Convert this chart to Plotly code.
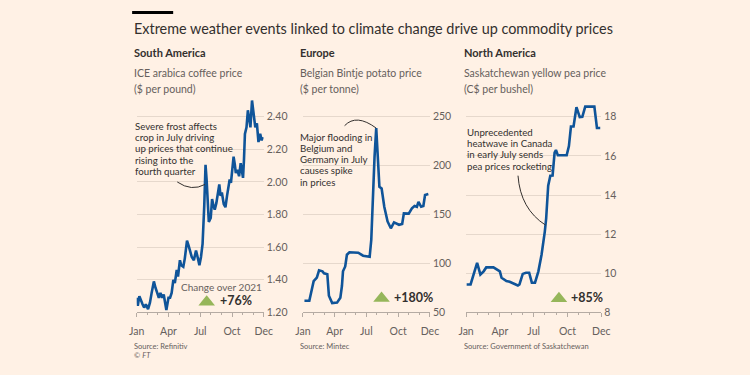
import plotly.graph_objects as go

# ---------------- data ----------------
month_tickvals = [0, 3, 6, 9, 12]
month_ticktext = ["Jan", "Apr", "Jul", "Oct", "Dec"]
minor_months = list(range(0, 13))

coffee_month = [0, 0.1, 0.25, 0.4, 0.55, 0.7, 0.86, 1.07, 1.25, 1.41, 1.62, 1.78, 1.93, 2.09,
                2.24, 2.4, 2.55, 2.7, 2.8, 3.0, 3.15, 3.3, 3.46, 3.6, 3.78, 3.9, 4.08, 4.2,
                4.4, 4.54, 4.75, 4.9, 5.04, 5.2, 5.4, 5.6, 5.75, 5.92, 6.07, 6.22, 6.38,
                6.5, 6.6, 6.69, 6.81, 6.99, 7.12, 7.24, 7.37, 7.52, 7.67, 7.8, 7.92, 8.04,
                8.22, 8.38, 8.53, 8.65, 8.78, 8.9, 9.05, 9.15, 9.27, 9.36, 9.5, 9.67, 9.82,
                9.92, 10.04, 10.13, 10.22, 10.37, 10.5, 10.62, 10.74, 10.89, 11.04, 11.2,
                11.35, 11.5, 11.66, 11.8, 11.9]
coffee_price = [1.29, 1.24, 1.30, 1.27, 1.25, 1.23, 1.25, 1.22, 1.26, 1.32, 1.39, 1.35, 1.32, 1.29,
                1.32, 1.29, 1.31, 1.24, 1.215, 1.29, 1.29, 1.32, 1.40, 1.38, 1.46, 1.42, 1.52, 1.49,
                1.48, 1.53, 1.64, 1.61, 1.57, 1.54, 1.52, 1.58, 1.54, 1.49, 1.54, 1.62, 1.855,
                2.105, 2.015, 1.855, 1.755, 1.78, 1.895, 1.855, 1.83, 1.87, 1.935, 1.985, 1.915, 1.935,
                1.865, 1.845, 1.915, 1.955, 2.015, 1.995, 2.095, 2.155, 2.105, 2.055, 2.075, 2.035, 2.115,
                2.055, 2.025, 2.135, 2.295, 2.335, 2.44, 2.39, 2.335, 2.50, 2.42, 2.335,
                2.36, 2.245, 2.295, 2.255, 2.275]

potato_month = [0.15, 0.61, 1.02, 1.32, 1.53, 1.85, 2.0, 2.31, 2.46, 2.77, 3.23, 3.54, 3.69, 3.79,
                4.0, 4.16, 4.4, 5.23, 5.69, 6.15, 6.31, 6.46, 6.61, 6.77, 6.93, 7.07, 7.23, 7.44,
                7.69, 8.0, 8.31, 8.61, 9.08, 9.38, 9.54, 10.0, 10.3, 10.55, 10.77, 10.92, 11.17,
                11.38, 11.54, 11.85]
potato_price = [62, 62, 82, 85.5, 93, 92, 90, 89, 67, 59.5, 60, 65, 77, 92,
                97, 109, 111.5, 111, 108, 107, 107, 124, 168, 209, 238.5, 215.6, 178.4, 176.7,
                158, 143, 136, 142, 139.6, 140.5, 151.3, 151, 156.4, 158.8, 158, 163, 158,
                158.8, 170, 171]

pea_month = [0.05, 0.4, 0.98, 1.27, 1.56, 1.79, 2.43, 2.71, 3.0, 3.15, 3.43, 3.58, 3.87, 4.3,
             4.6, 4.74, 5.03, 5.32, 5.6, 5.84, 6.12, 6.42, 6.7, 6.99, 7.11, 7.29, 7.48, 7.68,
             7.86, 7.98, 8.15, 8.93, 9.13, 9.31, 9.54, 9.8, 10.09, 10.32, 10.58, 11.39, 11.62, 11.91]
pea_price = [9.43, 9.43, 10.53, 9.94, 10.1, 10.3, 10.3, 10.19, 10.1, 9.77, 9.64, 9.6, 9.57, 9.47,
             9.38, 9.43, 9.97, 10.03, 10.03, 9.52, 9.52, 10.1, 10.95, 12.13, 12.8, 14.48, 14.99, 15.0,
             16.17, 16.3, 16.03, 16.03, 16.5, 17.5, 17.5, 18.49, 17.98, 18.0, 18.52, 18.52, 17.43, 17.43]

coffee_ticks = [1.2, 1.4, 1.6, 1.8, 2.0, 2.2, 2.4]
potato_ticks = [50, 100, 150, 200, 250]
pea_ticks = [8, 10, 12, 14, 16, 18]

regions = ["South America", "Europe", "North America"]
subtitles = [["ICE arabica coffee price", "($ per pound)"],
             ["Belgian Bintje potato price", "($ per tonne)"],
             ["Saskatchewan yellow pea price", "(C$ per bushel)"]]
changes = ["+76%", "+180%", "+85%"]
sources = ["Source: Refinitiv", "Source: Mintec", "Source: Government of Saskatchewan"]
notes = [["Severe frost affects", "crop in July driving", "up prices that continue",
          "rising into the", "fourth quarter"],
         ["Major flooding in", "Belgium and", "Germany in July", "causes spike", "in prices"],
         ["Unprecedented", "heatwave in Canada", "in early July sends", "pea prices rocketing"]]
title = "Extreme weather events linked to climate change drive up commodity prices"

# ---------------- style ----------------
W, H = 750, 375
BG = "#FFF1E5"
LINE = "#0F5499"
GRID = "#E6D8CC"
AXIS = "#B5ABA3"
TXT = "#33302E"
GREY = "#66605C"
GREEN = "#96B65A"
FONT = "Lato"


def px(x):
    return x / W


def py(y):
    return (H - y) / H


fig = go.Figure()

series = [(coffee_month, coffee_price), (potato_month, potato_price), (pea_month, pea_price)]
for i, (mx, vy) in enumerate(series):
    fig.add_trace(go.Scatter(x=mx, y=vy, mode="lines",
                             line=dict(color=LINE, width=2.6),
                             xaxis="x" if i == 0 else f"x{i+1}",
                             yaxis="y" if i == 0 else f"y{i+1}",
                             hoverinfo="skip", showlegend=False))

x_domains = [(131.7, 261.7), (301.7, 431.7), (468.7, 607.0)]
y_dom = [py(317.5), py(98)]
y_ranges = [[1.2, 2.5247], [50, 270.8], [8, 19.04]]
y_ticks = [coffee_ticks, potato_ticks, pea_ticks]
y_formats = [".2f", "d", "d"]

layout = dict(width=W, height=H, margin=dict(l=0, r=0, t=0, b=0),
              paper_bgcolor=BG, plot_bgcolor=BG, showlegend=False,
              font=dict(family=FONT, color=TXT))
for i in range(3):
    sx = "" if i == 0 else str(i + 1)
    layout[f"xaxis{sx}"] = dict(
        domain=[px(x_domains[i][0]), px(x_domains[i][1])], range=[0, 12],
        anchor=f"y{sx}", tickmode="array", tickvals=month_tickvals, ticktext=month_ticktext,
        showgrid=False, zeroline=False, showline=True, linecolor=AXIS, linewidth=1,
        ticks="outside", ticklen=4, tickcolor=AXIS, tickwidth=1,
        minor=dict(tickmode="array", tickvals=minor_months, ticks="outside", ticklen=2,
                   tickcolor=AXIS, tickwidth=1, showgrid=False),
        tickfont=dict(family=FONT, size=10.5, color=GREY), ticklabelstandoff=5,
        fixedrange=True)
    layout[f"yaxis{sx}"] = dict(
        domain=y_dom, range=y_ranges[i], anchor=f"x{sx}", side="right",
        tickmode="array", tickvals=y_ticks[i], tickformat=y_formats[i],
        showgrid=True, gridcolor=GRID, gridwidth=1, zeroline=False, showline=False,
        ticks="", tickfont=dict(family=FONT, size=10.5, color=GREY), ticklabelstandoff=2,
        fixedrange=True)
fig.update_layout(**layout)

ann = []
# title
ann.append(dict(text=title, x=px(127), y=py(29), xref="paper", yref="paper",
                xanchor="left", yanchor="middle", showarrow=False,
                font=dict(family=FONT, size=14.4, color=TXT)))
head_x = [127, 296.5, 465]
for i in range(3):
    ann.append(dict(text=f"<b>{regions[i]}</b>", x=px(head_x[i]), y=py(53.5), xref="paper",
                    yref="paper", xanchor="left", yanchor="middle", showarrow=False,
                    font=dict(family=FONT, size=11, color=TXT)))
    for j, s in enumerate(subtitles[i]):
        ann.append(dict(text=s, x=px(head_x[i]), y=py(74 + 16 * j), xref="paper",
                        yref="paper", xanchor="left", yanchor="middle", showarrow=False,
                        font=dict(family=FONT, size=10.5, color=GREY)))
    ann.append(dict(text=sources[i], x=px(head_x[i]), y=py(352), xref="paper", yref="paper",
                    xanchor="left", yanchor="middle", showarrow=False,
                    font=dict(family=FONT, size=7.5, color=GREY)))
ann.append(dict(text="© <i>FT</i>", x=px(127), y=py(361.5), xref="paper", yref="paper",
                xanchor="left", yanchor="middle", showarrow=False,
                font=dict(family=FONT, size=7.5, color=GREY)))

# notes
note_pos = [(128, 128.3), (296.5, 139.3), (467.3, 134.3)]
for i in range(3):
    x0, y0 = note_pos[i]
    for j, s in enumerate(notes[i]):
        ann.append(dict(text=s, x=px(x0), y=py(y0 + 11.3 * j), xref="paper", yref="paper",
                        xanchor="left", yanchor="middle", showarrow=False,
                        font=dict(family=FONT, size=9.7, color=TXT)))

# change labels
ann.append(dict(text="Change over 2021", x=px(218), y=py(292), xref="paper", yref="paper",
                xanchor="center", yanchor="middle", showarrow=False,
                font=dict(family=FONT, size=10, color=GREY)))
chg_pos = [(214.5, 305.5), (392.5, 302), (574, 302)]
tri_pos = [(203.3, 305.5), (382.2, 301.7), (563.7, 302)]
shapes = []
for i in range(3):
    ann.append(dict(text=f"<b>{changes[i]}</b>", x=px(chg_pos[i][0]), y=py(chg_pos[i][1]),
                    xref="paper", yref="paper", xanchor="left", yanchor="middle",
                    showarrow=False, font=dict(family=FONT, size=12.5, color=TXT)))
    cx, cy = tri_pos[i]
    path = (f"M {px(cx-8.5)} {py(cy+5)} L {px(cx+8.5)} {py(cy+5)} "
            f"L {px(cx)} {py(cy-5.5)} Z")
    shapes.append(dict(type="path", path=path, xref="paper", yref="paper",
                       fillcolor=GREEN, line=dict(width=0)))

# top black bar
shapes.append(dict(type="rect", x0=px(127), x1=px(169), y0=py(14.2), y1=py(11.2),
                   xref="paper", yref="paper", fillcolor="#000000", line=dict(width=0)))

# connector curves (data coordinates)
shapes.append(dict(type="path", xref="x", yref="y",
                   path="M 3.83 2.0 Q 5.18 1.94 6.45 1.985",
                   line=dict(color=TXT, width=1)))
shapes.append(dict(type="path", xref="x2", yref="y2",
                   path="M 3.94 240.9 Q 5.05 253.5 6.93 238.4",
                   line=dict(color=TXT, width=1)))
shapes.append(dict(type="path", xref="x3", yref="y3",
                   path="M 4.61 14.99 Q 4.82 13.29 7.06 12.46",
                   line=dict(color=TXT, width=1)))

fig.update_layout(annotations=ann, shapes=shapes)
fig.write_html("out.html", config={"displayModeBar": False},
               post_script="document.body.style.margin='0';document.body.style.overflow='hidden';")
